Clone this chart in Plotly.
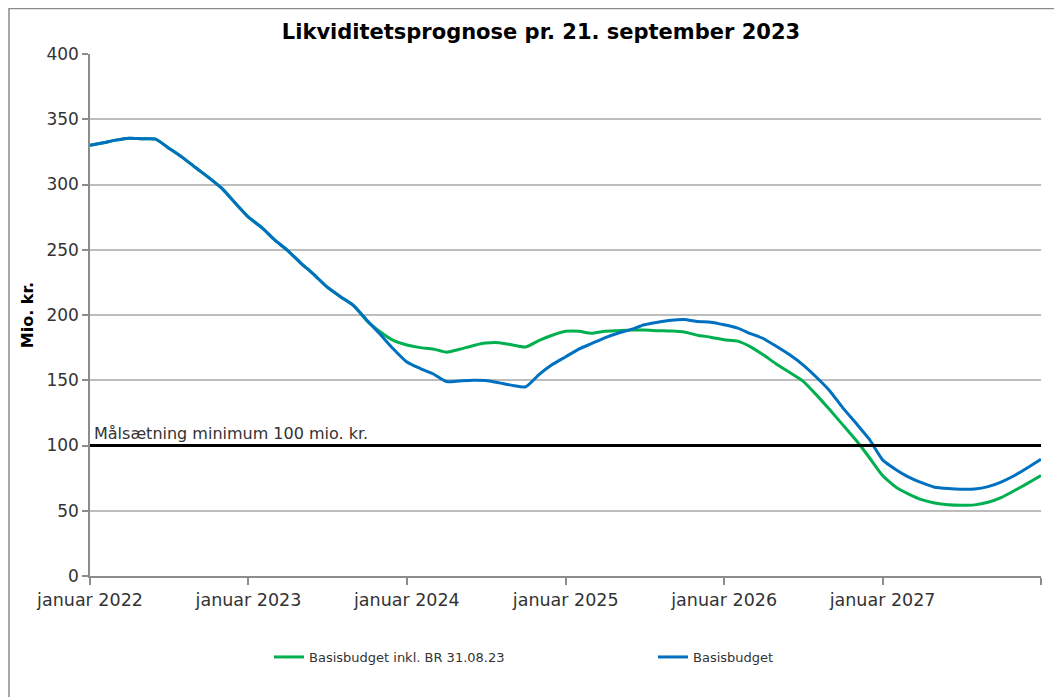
import pandas as pd
import plotly.graph_objects as go

# Monthly observation dates, Jan 2022 .. Jan 2028
dates = pd.date_range("2022-01-01", "2028-01-01", freq="MS")

# Basisbudget (blue), mio. kr.
basis = [330, 332, 334, 335.5, 335, 334.8, 328, 321, 313, 305.5,
         297, 286, 275, 267, 258, 249.5, 240, 231, 221.5, 214,
         207, 196, 185, 174, 164, 159, 155, 149, 149.5, 150,
         149.8, 148, 146, 145, 154.5, 162, 168, 174, 178, 182.5,
         186, 189, 192.5, 194.5, 196, 196.5, 195, 194.5, 192.5, 190,
         186, 182, 176, 169.5, 162, 152.5, 142, 129, 117, 105,
         89, 81.5, 76, 71.5, 68, 67, 66.5, 66.7, 68.5, 72,
         77, 83, 89.5]

# Basisbudget inkl. BR 31.08.23 (green), mio. kr.
basis_br = [330, 332, 334, 335.5, 335, 334.8, 328, 321, 313, 305.5,
            297, 286, 275, 267, 258, 249.5, 240, 231, 221.5, 214,
            207, 195.5, 187, 180.5, 177, 175, 174, 171.5, 173.7, 176.5,
            178.5, 178.8, 177, 175.5, 180.5, 184.5, 187.5, 187.5, 186, 187.5,
            188, 188.5, 188.5, 188, 187.7, 187, 184.5, 183, 181, 180,
            176, 169.5, 162.5, 156, 149.5, 139, 127.5, 116, 104, 91,
            77, 68, 63, 58.5, 56, 54.6, 54.2, 54.5, 56.5, 60,
            65.5, 71, 77]

tick_dates = ["2022-01-01", "2023-01-01", "2024-01-01", "2025-01-01",
              "2026-01-01", "2027-01-01", "2028-01-01"]
tick_labels = ["januar 2022", "januar 2023", "januar 2024", "januar 2025",
               "januar 2026", "januar 2027", ""]
y_ticks = [0, 50, 100, 150, 200, 250, 300, 350, 400]
target = 100

FONT = "DejaVu Sans"
W, H = 1054, 689
L, R, T, B = 82, 21, 46, 121
PW, PH = W - L - R, H - T - B

fig = go.Figure()
fig.add_trace(go.Scatter(x=dates, y=basis_br, mode="lines",
                         name="Basisbudget inkl. BR 31.08.23",
                         line=dict(color="#00B050", width=3, shape="spline", smoothing=0.5)))
fig.add_trace(go.Scatter(x=dates, y=basis, mode="lines",
                         name="Basisbudget",
                         line=dict(color="#0070C0", width=3, shape="spline", smoothing=0.5)))

fig.add_shape(type="line", xref="paper", x0=0, x1=1, yref="y", y0=target, y1=target,
              line=dict(color="black", width=3))
fig.add_annotation(xref="paper", x=0.002, yref="y", y=target, text="Målsætning minimum 100 mio. kr.",
                   showarrow=False, xanchor="left", yanchor="bottom",
                   font=dict(family=FONT, size=16, color="#333333"), yshift=1)

# outer chart border
fig.add_shape(type="rect", xref="paper", yref="paper",
              x0=(1 - L) / PW, x1=(W + 20 - L) / PW,
              y0=-(B + 20) / PH, y1=(PH + T - 0.5) / PH,
              line=dict(color="#8c8c8c", width=1.5))

fig.update_layout(
    width=W, height=H,
    margin=dict(l=L, r=R, t=T, b=B),
    paper_bgcolor="white", plot_bgcolor="white",
    font=dict(family=FONT, color="#333333"),
    title=dict(text="<b>Likviditetsprognose pr. 21. september 2023</b>",
               x=533 / W, xref="container", xanchor="center",
               y=1 - 24 / H, yref="container", yanchor="middle",
               font=dict(family=FONT, size=21, color="black")),
    showlegend=True,
    legend=dict(orientation="h", x=(261 - L) / PW, xanchor="left",
                y=-(649 - (T + PH)) / PH, yanchor="middle",
                entrywidth=339, entrywidthmode="pixels",
                font=dict(family=FONT, size=13, color="#333333"),
                bgcolor="rgba(0,0,0,0)"),
)
fig.update_xaxes(range=["2022-01-01", "2028-01-01"], tickvals=tick_dates, ticktext=tick_labels,
                 showgrid=False, showline=True, linecolor="#8c8c8c", linewidth=1.5,
                 ticks="outside", ticklen=7, tickcolor="#8c8c8c", tickwidth=1.5,
                 tickfont=dict(family=FONT, size=17.5, color="#333333"), zeroline=False,
                 automargin=False)
fig.update_yaxes(range=[0, 400], tickvals=y_ticks,
                 showgrid=True, gridcolor="#bdbdbd", gridwidth=2,
                 showline=True, linecolor="#8c8c8c", linewidth=1.5,
                 ticks="outside", ticklen=6, tickcolor="#8c8c8c", tickwidth=1.5,
                 tickfont=dict(family=FONT, size=17, color="#333333"), zeroline=False,
                 automargin=False,
                 title=dict(text="<b>Mio. kr.</b>", font=dict(family=FONT, size=16, color="black"),
                            standoff=9))

fig.write_html("out.html")
